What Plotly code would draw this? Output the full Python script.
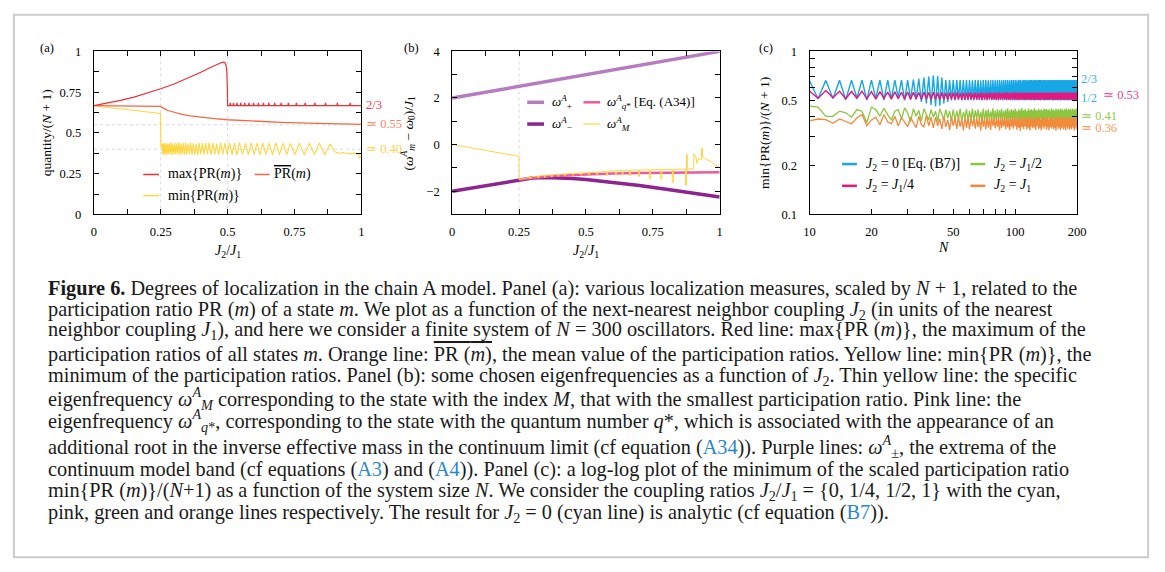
import plotly.graph_objects as go

W, H = 1165, 572


def fx(p):
    return p / W


def fy(p):
    return 1 - p / H


SERIF = "Liberation Serif"
TICKFONT = dict(family=SERIF, size=12.5, color="black")

# ---------------- panel (a) data ----------------
a_max_x = [0.0, 0.05, 0.10, 0.15, 0.20, 0.25, 0.30, 0.35, 0.40, 0.43, 0.46, 0.475, 0.485, 0.490,
           0.494, 0.497, 0.499, 0.500,
           0.508, 0.510, 0.512, 0.520, 0.522, 0.524, 0.533, 0.535, 0.537, 0.547, 0.549, 0.551,
           0.562, 0.564, 0.566, 0.578, 0.580, 0.582, 0.595, 0.597, 0.599, 0.613, 0.615, 0.617,
           0.632, 0.634, 0.636, 0.652, 0.654, 0.656, 0.674, 0.676, 0.678, 0.698, 0.700, 0.702,
           0.725, 0.727, 0.729, 0.755, 0.757, 0.759, 0.788, 0.790, 0.792, 0.824, 0.826, 0.828,
           0.864, 0.866, 0.868, 0.908, 0.910, 0.912, 0.956, 0.958, 0.960, 1.0]
a_max_y = [0.667, 0.683, 0.700, 0.720, 0.744, 0.771, 0.800, 0.834, 0.872, 0.897, 0.921, 0.930, 0.934, 0.930,
           0.915, 0.880, 0.780, 0.667,
           0.667, 0.684, 0.667, 0.667, 0.684, 0.667, 0.667, 0.684, 0.667, 0.667, 0.684, 0.667,
           0.667, 0.684, 0.667, 0.667, 0.684, 0.667, 0.667, 0.684, 0.667, 0.667, 0.684, 0.667,
           0.667, 0.684, 0.667, 0.667, 0.684, 0.667, 0.667, 0.684, 0.667, 0.667, 0.684, 0.667,
           0.667, 0.684, 0.667, 0.667, 0.684, 0.667, 0.667, 0.684, 0.667, 0.667, 0.684, 0.667,
           0.667, 0.684, 0.667, 0.667, 0.684, 0.667, 0.667, 0.684, 0.667, 0.667]

a_mean_x = [0.0, 0.1, 0.2, 0.245, 0.25, 0.255, 0.26, 0.27, 0.28, 0.30, 0.33, 0.36, 0.40, 0.45,
            0.50, 0.55, 0.60, 0.70, 0.80, 0.90, 1.0]
a_mean_y = [0.667, 0.666, 0.666, 0.665, 0.663, 0.657, 0.651, 0.643, 0.636, 0.626, 0.614, 0.605, 0.596, 0.588,
            0.581, 0.576, 0.572, 0.565, 0.560, 0.556, 0.552]

a_min_x = [0.0, 0.249, 0.2505,
           0.254, 0.2565, 0.259, 0.2615, 0.264, 0.267, 0.270, 0.273, 0.276, 0.279,
           0.282, 0.2855, 0.289, 0.2925, 0.296, 0.2995, 0.303, 0.3065, 0.310, 0.314,
           0.318, 0.322, 0.326, 0.330, 0.334, 0.3385, 0.343, 0.3475, 0.352, 0.357,
           0.362, 0.367, 0.372, 0.3775, 0.383, 0.3885, 0.394, 0.400, 0.406, 0.412,
           0.418, 0.4245, 0.431, 0.438, 0.445, 0.452, 0.459, 0.4665, 0.474, 0.482,
           0.490, 0.4985, 0.507, 0.5165, 0.526, 0.535, 0.544, 0.5555, 0.567, 0.5775,
           0.588, 0.599, 0.610, 0.6205, 0.631, 0.643, 0.655, 0.6675, 0.680, 0.6935,
           0.707, 0.721, 0.735, 0.7515, 0.768, 0.787, 0.806, 0.8245, 0.843, 0.863,
           0.883,
           0.900, 0.910, 0.920, 0.930, 0.940, 0.950, 0.960, 0.970, 0.980, 0.988, 0.993, 0.997, 1.0]
a_min_y = [0.667, 0.620, 0.420,
           0.432, 0.372, 0.438, 0.366, 0.435, 0.370, 0.440, 0.364, 0.433, 0.371,
           0.437, 0.368, 0.441, 0.365, 0.434, 0.370, 0.439, 0.366, 0.436, 0.369,
           0.442, 0.364, 0.433, 0.370, 0.438, 0.367, 0.440, 0.365, 0.435, 0.371,
           0.441, 0.366, 0.437, 0.369, 0.434, 0.364, 0.440, 0.368, 0.438, 0.366,
           0.436, 0.370, 0.441, 0.365, 0.439, 0.368, 0.435, 0.366, 0.440, 0.369,
           0.437, 0.365, 0.440, 0.367, 0.438, 0.366, 0.441, 0.368, 0.437, 0.365,
           0.440, 0.367, 0.438, 0.366, 0.439, 0.368, 0.437, 0.365, 0.440, 0.367,
           0.438, 0.366, 0.436, 0.368, 0.439, 0.366, 0.437, 0.367, 0.438, 0.366,
           0.432,
           0.385, 0.378, 0.376, 0.379, 0.374, 0.377, 0.372, 0.376, 0.371, 0.373, 0.345, 0.352, 0.360]

# ---------------- panel (b) data ----------------
b_plus_x = [0.0, 0.25, 0.5, 0.75, 1.0]
b_plus_y = [2.0, 2.5, 3.0, 3.5, 4.0]

b_minus_x = [0.0, 0.125, 0.25, 0.30, 0.35, 0.40, 0.45, 0.50, 0.60, 0.70, 0.80, 0.90, 1.0]
b_minus_y = [-2.0, -1.75, -1.5, -1.433, -1.414, -1.425, -1.456, -1.5, -1.617, -1.757, -1.913, -2.078, -2.25]

b_qstar_x = [0.25, 0.30, 0.35, 0.40, 0.50, 0.60, 0.70, 0.80, 0.90, 1.0]
b_qstar_y = [-1.5, -1.42, -1.365, -1.325, -1.27, -1.24, -1.22, -1.205, -1.195, -1.185]

b_M_x = [0.0, 0.2495, 0.2505, 0.27,
         0.29, 0.29, 0.294, 0.294, 0.32, 0.32, 0.324, 0.324,
         0.345, 0.345, 0.349, 0.349, 0.37, 0.37, 0.374, 0.374,
         0.395, 0.395, 0.399, 0.399, 0.42, 0.42, 0.424, 0.424,
         0.45, 0.45, 0.454, 0.454, 0.48, 0.48, 0.484, 0.484,
         0.51, 0.51, 0.514, 0.514, 0.54, 0.54, 0.544, 0.544,
         0.576, 0.576, 0.58, 0.58, 0.61, 0.61, 0.614, 0.614,
         0.635, 0.635, 0.639, 0.639, 0.663, 0.663, 0.667, 0.667,
         0.696, 0.696, 0.70, 0.70, 0.737, 0.737, 0.741, 0.741,
         0.78, 0.78, 0.784, 0.784, 0.823, 0.823, 0.827, 0.827,
         0.872, 0.872, 0.876, 0.876, 0.879, 0.879,
         0.903, 0.903, 0.910, 0.915, 0.920, 0.932, 0.932, 0.936, 0.936,
         0.945, 0.955, 0.965, 0.975, 0.985, 0.993, 1.0]
b_M_y = [0.0, -0.50, -1.50, -1.44,
         -1.40, -1.46, -1.46, -1.39, -1.35, -1.42, -1.42, -1.35,
         -1.32, -1.40, -1.40, -1.32, -1.30, -1.38, -1.38, -1.30,
         -1.28, -1.36, -1.36, -1.28, -1.26, -1.34, -1.34, -1.26,
         -1.24, -1.31, -1.31, -1.24, -1.22, -1.30, -1.30, -1.22,
         -1.20, -1.28, -1.28, -1.20, -1.18, -1.27, -1.27, -1.18,
         -1.15, -1.33, -1.33, -1.15, -1.12, -1.27, -1.27, -1.12,
         -1.11, -1.30, -1.30, -1.11, -1.10, -1.33, -1.33, -1.10,
         -1.09, -1.36, -1.36, -1.09, -1.08, -1.45, -1.45, -1.08,
         -1.07, -1.47, -1.47, -1.07, -1.06, -1.62, -1.62, -1.06,
         -1.05, -1.74, -1.74, -0.42, -0.42, -1.04,
         -1.04, -0.40, -0.50, -0.80, -0.60, -0.65, -0.16, -0.16, -0.55,
         -0.60, -0.65, -0.72, -0.80, -0.88, -0.95, -1.0]

# ---------------- panel (c) data ----------------
c_N = list(range(10, 201))

c_j0 = [0.660, 0.512, 0.664, 0.515, 0.666, 0.505, 0.666, 0.518, 0.667, 0.502,
        0.667, 0.515, 0.667, 0.503, 0.667, 0.512, 0.667, 0.520, 0.667, 0.500,
        0.667, 0.510, 0.672, 0.505, 0.680, 0.490, 0.690, 0.480, 0.700, 0.470,
        0.710, 0.460, 0.705, 0.465, 0.690, 0.480, 0.667, 0.490, 0.667, 0.500,
        0.667, 0.502, 0.667, 0.505, 0.666, 0.500, 0.667, 0.504, 0.667, 0.501,
        0.667, 0.503, 0.666, 0.500, 0.667, 0.505, 0.667, 0.502, 0.666, 0.500,
        0.667, 0.504, 0.667, 0.501, 0.666, 0.503, 0.667, 0.500, 0.667, 0.505,
        0.666, 0.502, 0.667, 0.500, 0.667, 0.504, 0.666, 0.501, 0.667, 0.503,
        0.667, 0.500, 0.667, 0.505, 0.666, 0.502, 0.667, 0.500, 0.667, 0.504,
        0.667, 0.501, 0.666, 0.503, 0.667, 0.500, 0.667, 0.505, 0.666, 0.502,
        0.667, 0.500, 0.667, 0.504, 0.667, 0.501, 0.666, 0.503, 0.667, 0.500,
        0.667, 0.505, 0.666, 0.502, 0.667, 0.500, 0.667, 0.504, 0.666, 0.501,
        0.667, 0.503, 0.667, 0.500, 0.667, 0.505, 0.666, 0.502, 0.667, 0.500,
        0.667, 0.504, 0.666, 0.501, 0.667, 0.503, 0.667, 0.500, 0.666, 0.505,
        0.667, 0.502, 0.667, 0.500, 0.667, 0.504, 0.666, 0.501, 0.667, 0.503,
        0.667, 0.500, 0.666, 0.505, 0.667, 0.502, 0.667, 0.500, 0.666, 0.504,
        0.667, 0.501, 0.667, 0.503, 0.666, 0.500, 0.667, 0.505, 0.667, 0.502,
        0.666, 0.500, 0.667, 0.504, 0.667, 0.501, 0.666, 0.503, 0.667, 0.500,
        0.667, 0.505, 0.666, 0.502, 0.667, 0.500, 0.667, 0.504, 0.666, 0.501,
        0.667]

c_j14 = [0.572, 0.515, 0.575, 0.520, 0.570, 0.512, 0.568, 0.516, 0.570, 0.512,
         0.566, 0.510, 0.567, 0.515, 0.563, 0.510, 0.565, 0.512, 0.562, 0.510,
         0.563, 0.508, 0.561, 0.512, 0.560, 0.508, 0.562, 0.510, 0.559, 0.507,
         0.561, 0.510, 0.558, 0.506, 0.560, 0.509, 0.557, 0.507, 0.559, 0.510,
         0.558, 0.506, 0.560, 0.509, 0.557, 0.507, 0.559, 0.505, 0.558, 0.508,
         0.560, 0.507, 0.557, 0.509, 0.559, 0.506, 0.558, 0.508, 0.560, 0.505,
         0.557, 0.508, 0.559, 0.506, 0.558, 0.509, 0.560, 0.507, 0.557, 0.508,
         0.559, 0.505, 0.558, 0.508, 0.560, 0.506, 0.557, 0.509, 0.559, 0.507,
         0.558, 0.508, 0.560, 0.505, 0.557, 0.507, 0.559, 0.509, 0.558, 0.506,
         0.560, 0.508, 0.557, 0.506, 0.559, 0.508, 0.558, 0.505, 0.560, 0.507,
         0.557, 0.509, 0.559, 0.506, 0.558, 0.508, 0.560, 0.507, 0.557, 0.505,
         0.559, 0.508, 0.558, 0.506, 0.560, 0.509, 0.557, 0.507, 0.559, 0.508,
         0.558, 0.505, 0.560, 0.508, 0.557, 0.506, 0.559, 0.509, 0.558, 0.507,
         0.560, 0.506, 0.557, 0.508, 0.559, 0.505, 0.558, 0.507, 0.560, 0.509,
         0.557, 0.507, 0.559, 0.508, 0.558, 0.506, 0.560, 0.505, 0.557, 0.508,
         0.559, 0.506, 0.558, 0.509, 0.560, 0.507, 0.557, 0.508, 0.559, 0.505,
         0.558, 0.508, 0.560, 0.506, 0.557, 0.509, 0.559, 0.507, 0.558, 0.506,
         0.560, 0.508, 0.557, 0.505, 0.559, 0.507, 0.558, 0.509, 0.560, 0.506,
         0.557, 0.508, 0.559, 0.506, 0.558, 0.507, 0.560, 0.505, 0.557, 0.508,
         0.559]

c_j12 = [0.462, 0.455, 0.400, 0.400, 0.430, 0.420, 0.395, 0.440, 0.430, 0.365,
         0.455, 0.440, 0.400, 0.448, 0.410, 0.380, 0.430, 0.440, 0.385, 0.450,
         0.420, 0.370, 0.445, 0.400, 0.435, 0.375, 0.445, 0.410, 0.380, 0.440,
         0.395, 0.430, 0.372, 0.445, 0.405, 0.380, 0.440, 0.390, 0.430, 0.375,
         0.440, 0.378, 0.432, 0.385, 0.445, 0.372, 0.425, 0.390, 0.442, 0.375,
         0.430, 0.382, 0.446, 0.370, 0.435, 0.388, 0.440, 0.376, 0.428, 0.384,
         0.444, 0.372, 0.436, 0.386, 0.441, 0.374, 0.429, 0.389, 0.447, 0.371,
         0.433, 0.383, 0.442, 0.377, 0.437, 0.387, 0.445, 0.373, 0.431, 0.385,
         0.440, 0.376, 0.448, 0.370, 0.434, 0.384, 0.443, 0.378, 0.436, 0.388,
         0.446, 0.372, 0.432, 0.386, 0.441, 0.375, 0.438, 0.382, 0.449, 0.371,
         0.435, 0.384, 0.443, 0.377, 0.430, 0.388, 0.447, 0.373, 0.437, 0.381,
         0.442, 0.376, 0.434, 0.386, 0.448, 0.370, 0.439, 0.383, 0.433, 0.379,
         0.445, 0.374, 0.436, 0.387, 0.441, 0.372, 0.431, 0.385, 0.447, 0.377,
         0.438, 0.382, 0.444, 0.371, 0.435, 0.388, 0.442, 0.375, 0.433, 0.384,
         0.448, 0.373, 0.437, 0.386, 0.440, 0.378, 0.432, 0.383, 0.446, 0.372,
         0.436, 0.387, 0.443, 0.376, 0.434, 0.381, 0.447, 0.374, 0.439, 0.385,
         0.441, 0.372, 0.433, 0.388, 0.445, 0.377, 0.437, 0.382, 0.448, 0.371,
         0.435, 0.384, 0.442, 0.375, 0.438, 0.386, 0.444, 0.373, 0.432, 0.387,
         0.446, 0.376, 0.436, 0.383, 0.441, 0.374, 0.439, 0.385, 0.447, 0.372,
         0.420]

c_j1 = [0.375, 0.385, 0.382, 0.362, 0.385, 0.372, 0.360, 0.390, 0.410, 0.350,
        0.380, 0.395, 0.355, 0.410, 0.370, 0.360, 0.400, 0.350, 0.390, 0.370,
        0.345, 0.395, 0.365, 0.340, 0.400, 0.355, 0.345, 0.405, 0.350, 0.395,
        0.340, 0.395, 0.350, 0.385, 0.335, 0.400, 0.345, 0.380, 0.330, 0.395,
        0.350, 0.390, 0.335, 0.398, 0.345, 0.382, 0.328, 0.395, 0.340, 0.388,
        0.332, 0.397, 0.348, 0.384, 0.336, 0.392, 0.343, 0.386, 0.326, 0.399,
        0.346, 0.383, 0.334, 0.394, 0.341, 0.389, 0.330, 0.396, 0.349, 0.381,
        0.337, 0.393, 0.344, 0.387, 0.327, 0.398, 0.339, 0.385, 0.347, 0.391,
        0.333, 0.396, 0.342, 0.382, 0.329, 0.394, 0.345, 0.388, 0.336, 0.397,
        0.348, 0.384, 0.331, 0.392, 0.340, 0.386, 0.325, 0.399, 0.344, 0.383,
        0.335, 0.395, 0.347, 0.389, 0.332, 0.393, 0.341, 0.385, 0.328, 0.398,
        0.346, 0.382, 0.338, 0.396, 0.343, 0.387, 0.330, 0.394, 0.349, 0.384,
        0.334, 0.397, 0.340, 0.383, 0.327, 0.392, 0.345, 0.389, 0.336, 0.395,
        0.348, 0.386, 0.331, 0.398, 0.342, 0.384, 0.329, 0.393, 0.344, 0.388,
        0.337, 0.396, 0.346, 0.382, 0.333, 0.391, 0.340, 0.387, 0.326, 0.399,
        0.347, 0.385, 0.335, 0.394, 0.343, 0.383, 0.330, 0.397, 0.338, 0.389,
        0.345, 0.392, 0.332, 0.386, 0.341, 0.395, 0.328, 0.384, 0.349, 0.390,
        0.336, 0.398, 0.344, 0.383, 0.331, 0.393, 0.342, 0.387, 0.334, 0.396,
        0.347, 0.385, 0.339, 0.391, 0.327, 0.388, 0.345, 0.394, 0.333, 0.386,
        0.360]

# tick labels
ab_tickvals = [0, 0.125, 0.25, 0.375, 0.5, 0.625, 0.75, 0.875, 1.0]
ab_ticktext = ["0", "", "0.25", "", "0.5", "", "0.75", "", "1"]
b_ytickvals = [-3, -2, -1, 0, 1, 2, 3, 4]
b_yticktext = ["", "\u22122", "", "0", "", "2", "", "4"]
c_xtickvals = [10, 20, 30, 40, 50, 60, 70, 80, 90, 100, 200]
c_xticktext = ["10", "20", "", "", "50", "", "", "", "", "100", "200"]
c_ytickvals = [0.1, 0.2, 0.3, 0.4, 0.5, 0.6, 0.7, 0.8, 0.9, 1.0]
c_yticktext = ["0.1", "0.2", "", "", "0.5", "", "", "", "", "1"]

# colours
C_MAX = "#e8313a"
C_MEAN = "#f26a45"
C_MIN = "#ffd640"
C_PLUS = "#b57cc0"
C_MINUS = "#8d2490"
C_QSTAR = "#ef5a9c"
C_CYAN = "#15a7e6"
C_PINK = "#e6177f"
C_GREEN = "#8cc63f"
C_ORANGE = "#f28a3c"

fig = go.Figure()


def line(x, y, color, width, xa, ya):
    fig.add_trace(go.Scatter(x=x, y=y, mode="lines", line=dict(color=color, width=width),
                             xaxis=xa, yaxis=ya, showlegend=False, hoverinfo="skip"))


# panel a
line(a_min_x, a_min_y, C_MIN, 1.1, "x", "y")
line(a_mean_x, a_mean_y, C_MEAN, 1.3, "x", "y")
line(a_max_x, a_max_y, C_MAX, 1.2, "x", "y")
# panel b
line(b_plus_x, b_plus_y, C_PLUS, 3.5, "x2", "y2")
line(b_minus_x, b_minus_y, C_MINUS, 3.5, "x2", "y2")
line(b_qstar_x, b_qstar_y, C_QSTAR, 2.5, "x2", "y2")
line(b_M_x, b_M_y, C_MIN, 1.0, "x2", "y2")
# panel c
line(c_N, c_j0, C_CYAN, 1.4, "x3", "y3")
line(c_N, c_j14, C_PINK, 1.4, "x3", "y3")
line(c_N, c_j12, C_GREEN, 1.3, "x3", "y3")
line(c_N, c_j1, C_ORANGE, 1.3, "x3", "y3")


def axis(domain, anchor, **kw):
    d = dict(domain=domain, anchor=anchor, showline=True, linecolor="black", linewidth=1,
             mirror="ticks", ticks="inside", ticklen=5, tickwidth=1, tickcolor="black",
             showgrid=False, zeroline=False, tickfont=TICKFONT, fixedrange=True)
    d.update(kw)
    return d


ydom = [fy(212.7), fy(45.5)]
XSO, YSO = 6, 9
fig.update_layout(
    width=W, height=H, margin=dict(l=0, r=0, t=0, b=0),
    paper_bgcolor="white", plot_bgcolor="white", showlegend=False,
    xaxis=axis([fx(89), fx(360)], "y", range=[0, 1], tickmode="array",
               tickvals=ab_tickvals, ticktext=ab_ticktext, ticklabelstandoff=XSO),
    yaxis=axis(ydom, "x", range=[0, 1], tickmode="array",
               tickvals=ab_tickvals, ticktext=ab_ticktext, ticklabelstandoff=YSO),
    xaxis2=axis([fx(452), fx(723)], "y2", range=[0, 1], tickmode="array",
                tickvals=ab_tickvals, ticktext=ab_ticktext, ticklabelstandoff=XSO),
    yaxis2=axis(ydom, "x2", range=[-3, 4], tickmode="array",
                tickvals=b_ytickvals, ticktext=b_yticktext, ticklabelstandoff=YSO),
    xaxis3=axis([fx(814), fx(1085)], "y3", type="log", range=[1, 2.30103], tickmode="array",
                tickvals=c_xtickvals, ticktext=c_xticktext, ticklabelstandoff=XSO),
    yaxis3=axis(ydom, "x3", type="log", range=[-1, 0], tickmode="array",
                tickvals=c_ytickvals, ticktext=c_yticktext, ticklabelstandoff=YSO),
)

shapes = []
# dotted reference lines
GRID = dict(color="#d9d9d9", width=1, dash="dot")
for xv in (0.25, 0.5):
    shapes.append(dict(type="line", xref="x", yref="y", x0=xv, x1=xv, y0=0, y1=1, line=GRID, layer="below"))
for yv in (0.55, 0.40):
    shapes.append(dict(type="line", xref="x", yref="y", x0=0, x1=1, y0=yv, y1=yv, line=GRID, layer="below"))
shapes.append(dict(type="line", xref="x2", yref="y2", x0=0.25, x1=0.25, y0=-3, y1=4, line=GRID, layer="below"))

# outer frame
shapes.append(dict(type="rect", xref="paper", yref="paper", x0=fx(8), x1=fx(1157), y0=fy(564), y1=fy(8),
                   line=dict(color="#cccccc", width=2)))


def sample(x0, x1, y, color, width):
    shapes.append(dict(type="line", xref="paper", yref="paper", x0=fx(x0), x1=fx(x1),
                       y0=fy(y), y1=fy(y), line=dict(color=color, width=width)))


annotations = []


def text(x, y, s, size=13, color="black", xanchor="left", yanchor="middle", angle=0, family=SERIF):
    annotations.append(dict(x=fx(x), y=fy(y), xref="paper", yref="paper", text=s, showarrow=False,
                            xanchor=xanchor, yanchor=yanchor, textangle=angle,
                            font=dict(family=family, size=size, color=color)))


# legends panel a
sample(139, 155, 171.7, C_MAX, 1.5)
text(162, 171.7, "max{PR(<i>m</i>)}", size=14)
sample(252, 267, 171.7, C_MEAN, 1.5)
text(269, 171.7, "<span style='text-decoration:overline'>PR</span>(<i>m</i>)", size=14)
sample(139, 155, 193.3, C_MIN, 1.5)
text(162, 193.3, "min{PR(<i>m</i>)}", size=14)

# legends panel b
sample(528, 545, 97.7, C_PLUS, 3.5)
text(551, 97.7, "<i>ω</i><sup><i>A</i></sup><sub>+</sub>")
sample(585, 602, 97.7, C_QSTAR, 2.5)
text(607, 97.7, "<i>ω</i><sup><i>A</i></sup><sub><i>q</i>*</sub> [Eq. (A34)]")
sample(528, 545, 120, C_MINUS, 3.5)
text(551, 120, "<i>ω</i><sup><i>A</i></sup><sub>−</sub>")
sample(585, 602, 120, C_MIN, 1.2)
text(607, 120, "<i>ω</i><sup><i>A</i></sup><sub><i>M</i></sub>")

# legends panel c
sample(847, 862, 161, C_CYAN, 2.5)
text(869, 161, "<i>J</i><sub>2</sub> = 0 [Eq. (B7)]", size=14)
sample(977, 992, 161, C_GREEN, 2.5)
text(999, 161, "<i>J</i><sub>2</sub> = <i>J</i><sub>1</sub>/2", size=14)
sample(847, 862, 183.3, C_PINK, 2.5)
text(869, 183.3, "<i>J</i><sub>2</sub> = <i>J</i><sub>1</sub>/4", size=14)
sample(977, 992, 183.3, C_ORANGE, 2.5)
text(999, 183.3, "<i>J</i><sub>2</sub> = <i>J</i><sub>1</sub>", size=14)

# panel labels
text(41.5, 42, "(a)", size=12.5, xanchor="center")
text(410.5, 42.5, "(b)", size=12.5, xanchor="center")
text(769.5, 42.5, "(c)", size=12.5, xanchor="center")

# axis titles
text(41, 129, "quantity/(<i>N</i> + 1)", size=13.5, xanchor="center", angle=-90)
text(408, 129, "(<i>ω</i><sup><i>A</i></sup><sub><i>m</i></sub> − <i>ω</i><sub>0</sub>)/<i>J</i><sub>1</sub>",
     size=13.5, xanchor="center", angle=-90)
text(769, 129, "min{PR(<i>m</i>)}/(<i>N</i> + 1)", size=13.5, xanchor="center", angle=-90)
text(224.5, 251, "<i>J</i><sub>2</sub>/<i>J</i><sub>1</sub>", size=14, xanchor="center")
text(587.5, 251, "<i>J</i><sub>2</sub>/<i>J</i><sub>1</sub>", size=14, xanchor="center")
text(949.5, 247, "<i>N</i>", size=14, xanchor="center")

# right-hand value labels
text(363, 100.8, "2/3", size=12.5, color="#ee3b4b")
text(363, 119.5, "≃ 0.55", size=12.5, color="#f3866d")
text(363, 146, "≃ 0.40", size=12.5, color="#f6d24f")
text(1087, 74.3, "2/3", size=12.5, color="#3bb3ea")
text(1087, 93.5, "1/2", size=12.5, color="#3bb3ea")
text(1109, 90, "≃ 0.53", size=12.5, color="#ea3f95")
text(1087, 111.5, "≃ 0.41", size=12.5, color="#93c94f")
text(1087, 124.5, "≃ 0.36", size=12.5, color="#f49a5e")

# caption
LINK = "#2a88c8"


def ln(s):
    return "<span style='color:%s'>%s</span>" % (LINK, s)


caption = [
    (289, "<b>Figure 6.</b> Degrees of localization in the chain A model. Panel (a): various localization measures, scaled by <i>N</i> + 1, related to the"),
    (311, "participation ratio PR (<i>m</i>) of a state <i>m</i>. We plot as a function of the next-nearest neighbor coupling <i>J</i><sub>2</sub> (in units of the nearest"),
    (332, "neighbor coupling <i>J</i><sub>1</sub>), and here we consider a finite system of <i>N</i> = 300 oscillators. Red line: max{PR (<i>m</i>)}, the maximum of the"),
    (356, "participation ratios of all states <i>m</i>. Orange line: <span style='text-decoration:overline'>PR (<i>m</i>)</span>, the mean value of the participation ratios. Yellow line: min{PR (<i>m</i>)}, the"),
    (379, "minimum of the participation ratios. Panel (b): some chosen eigenfrequencies as a function of <i>J</i><sub>2</sub>. Thin yellow line: the specific"),
    (401, "eigenfrequency <i>ω</i><sup><i>A</i></sup><sub><i>M</i></sub> corresponding to the state with the index <i>M</i>, that with the smallest participation ratio. Pink line: the"),
    (424, "eigenfrequency <i>ω</i><sup><i>A</i></sup><sub><i>q</i>*</sub>, corresponding to the state with the quantum number <i>q</i>*, which is associated with the appearance of an"),
    (451, "additional root in the inverse effective mass in the continuum limit (cf equation (" + ln("A34") + ")). Purple lines: <i>ω</i><sup><i>A</i></sup><sub>±</sub>, the extrema of the"),
    (474, "continuum model band (cf equations (" + ln("A3") + ") and (" + ln("A4") + ")). Panel (c): a log-log plot of the minimum of the scaled participation ratio"),
    (497, "min{PR (<i>m</i>)}/(<i>N</i>+1) as a function of the system size <i>N</i>. We consider the coupling ratios <i>J</i><sub>2</sub>/<i>J</i><sub>1</sub> = {0, 1/4, 1/2, 1} with the cyan,"),
    (519, "pink, green and orange lines respectively. The result for <i>J</i><sub>2</sub> = 0 (cyan line) is analytic (cf equation (" + ln("B7") + "))."),
]
for yy, s in caption:
    text(41, yy, s, size=20.3, color="#1a1a1a")

fig.update_layout(shapes=shapes, annotations=annotations)
fig.write_html("out.html")
